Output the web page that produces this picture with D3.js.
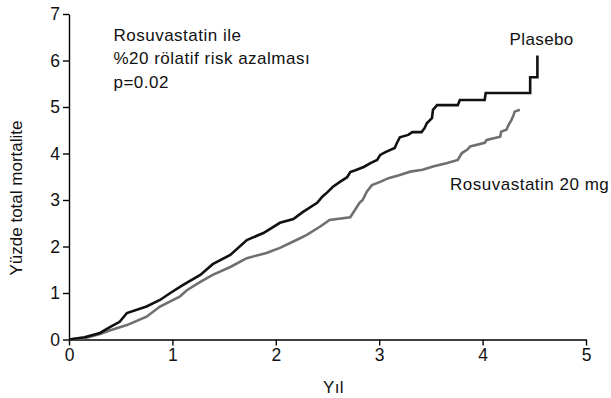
<!DOCTYPE html>
<meta charset="utf-8">
<script src="https://d3js.org/d3.v7.min.js"></script>
<style>
  body { margin: 0; background: #fff; }
  text { font-family: "Liberation Sans", Arial, Helvetica, sans-serif; }
</style>
<div id="my_dataviz"></div>
<script>

  // values (years, % total mortality)
  var placeboYears = [0, 0.15, 0.30, 0.40, 0.49, 0.56, 0.75, 0.88, 0.98, 1.10, 1.27, 1.39, 1.56, 1.72, 1.88,
    2.04, 2.17, 2.26, 2.40, 2.45, 2.50, 2.55, 2.62, 2.69, 2.72, 2.77, 2.85, 2.92, 2.98, 3.01, 3.06, 3.15,
    3.17, 3.20, 3.28, 3.32, 3.41, 3.44, 3.46, 3.51, 3.52, 3.56, 3.76, 3.78, 4.02, 4.03, 4.46, 4.46, 4.53, 4.53];
  var placeboPct = [0, 0.05, 0.14, 0.27, 0.38, 0.57, 0.71, 0.85, 1.00, 1.17, 1.39, 1.62, 1.82, 2.14, 2.29,
    2.51, 2.59, 2.74, 2.94, 3.07, 3.17, 3.28, 3.39, 3.49, 3.60, 3.64, 3.71, 3.80, 3.86, 3.97, 4.03, 4.12,
    4.22, 4.35, 4.40, 4.46, 4.46, 4.55, 4.65, 4.76, 4.94, 5.04, 5.04, 5.15, 5.15, 5.30, 5.30, 5.64, 5.64, 6.11];

  var rosuYears = [0, 0.15, 0.30, 0.40, 0.56, 0.75, 0.88, 1.07, 1.14, 1.27, 1.39, 1.56, 1.72, 1.91, 2.04,
    2.20, 2.30, 2.43, 2.52, 2.72, 2.81, 2.84, 2.88, 2.93, 3.01, 3.09, 3.20, 3.30, 3.42, 3.52, 3.65, 3.76,
    3.80, 3.85, 3.88, 4.02, 4.04, 4.17, 4.18, 4.23, 4.25, 4.28, 4.30, 4.31, 4.36];
  var rosuPct = [0, 0.03, 0.12, 0.20, 0.31, 0.49, 0.71, 0.92, 1.06, 1.24, 1.39, 1.56, 1.75, 1.86, 1.97,
    2.14, 2.25, 2.43, 2.57, 2.63, 2.94, 3.00, 3.18, 3.32, 3.39, 3.47, 3.54, 3.61, 3.65, 3.72, 3.79, 3.86,
    4.01, 4.08, 4.15, 4.23, 4.29, 4.36, 4.47, 4.51, 4.61, 4.72, 4.83, 4.90, 4.94];

  var xTicks = [0, 1, 2, 3, 4, 5];
  var yTicks = [0, 1, 2, 3, 4, 5, 6, 7];
  var noteLines = ["Rosuvastatin ile", "%20 rölatif risk azalması", "p=0.02"];

  // set the dimensions and margins of the graph
  var margin = { top: 14, right: 25, bottom: 58.5, left: 69 },
    width = 611 - margin.left - margin.right,
    height = 398 - margin.top - margin.bottom;

  var svg = d3.select("#my_dataviz")
    .append("svg")
    .attr("width", 611)
    .attr("height", 398)
    .append("g")
    .attr("transform", "translate(" + margin.left + "," + margin.top + ")");

  var x = d3.scaleLinear().domain([0, 5]).range([0, width]);
  var y = d3.scaleLinear().domain([0, 7]).range([height, 0]);

  // X axis
  var gx = svg.append("g")
    .attr("transform", "translate(0," + height + ")")
    .call(d3.axisBottom(x).tickValues(xTicks).tickFormat(d3.format("d")).tickSize(6).tickSizeOuter(0).tickPadding(3));

  // Y axis
  var gy = svg.append("g")
    .call(d3.axisLeft(y).tickValues(yTicks).tickFormat(d3.format("d")).tickSize(6).tickSizeOuter(0).tickPadding(3));

  [gx, gy].forEach(function (g) {
    g.selectAll("path, line").attr("stroke", "#000").attr("stroke-width", 1.4);
    g.selectAll("text").attr("fill", "#111").style("font-size", "17.5px")
      .style("font-family", "'Liberation Sans', Arial, sans-serif");
  });

  // axis titles
  svg.append("text")
    .attr("x", width / 2 + 6)
    .attr("y", height + 53)
    .attr("text-anchor", "middle")
    .style("font-size", "17px")
    .style("letter-spacing", "0.4px")
    .attr("fill", "#111")
    .text("Yıl");

  svg.append("text")
    .attr("transform", "translate(" + (22 - margin.left) + "," + (198 - margin.top) + ") rotate(-90)")
    .attr("text-anchor", "middle")
    .style("font-size", "17px")
    .attr("fill", "#111")
    .text("Yüzde total mortalite");

  var line = d3.line()
    .x(function (d) { return x(d[0]); })
    .y(function (d) { return y(d[1]); });

  var rosu = rosuYears.map(function (t, i) { return [t, rosuPct[i]]; });
  var placebo = placeboYears.map(function (t, i) { return [t, placeboPct[i]]; });

  svg.append("path")
    .datum(rosu)
    .attr("fill", "none")
    .attr("stroke", "#6f6f6f")
    .attr("stroke-width", 2.6)
    .attr("d", line);

  svg.append("path")
    .datum(placebo)
    .attr("fill", "none")
    .attr("stroke", "#111")
    .attr("stroke-width", 2.6)
    .attr("d", line);

  // annotations
  svg.append("text")
    .selectAll("tspan")
    .data(noteLines)
    .enter().append("tspan")
    .attr("x", x(0.43))
    .attr("y", function (d, i) { return y(6.43) + i * 23.5; })
    .style("font-size", "17px")
    .style("letter-spacing", "0.5px")
    .attr("fill", "#111")
    .text(function (d) { return d; });

  svg.append("text")
    .attr("x", x(4.26))
    .attr("y", y(6.33))
    .style("font-size", "17px")
    .style("letter-spacing", "0.4px")
    .attr("fill", "#111")
    .text("Plasebo");

  svg.append("text")
    .attr("x", x(3.685))
    .attr("y", y(3.215))
    .style("font-size", "17px")
    .style("letter-spacing", "0.5px")
    .attr("fill", "#111")
    .text("Rosuvastatin 20 mg");

</script>
